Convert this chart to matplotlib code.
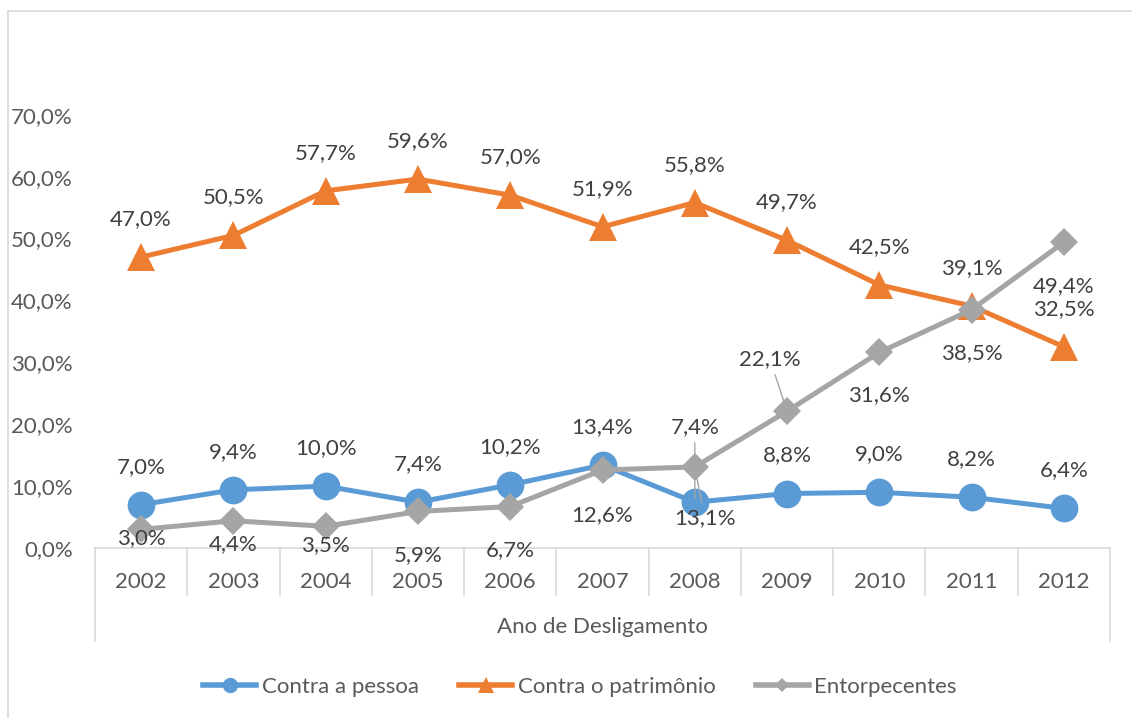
#Recriação do gráfico de linhas (estilo Excel)
import matplotlib.pyplot as plt
from matplotlib.lines import Line2D
from matplotlib.patches import Rectangle

#dados
anos = ["2002", "2003", "2004", "2005", "2006", "2007", "2008", "2009", "2010", "2011", "2012"]
contra_pessoa = [7.0, 9.4, 10.0, 7.4, 10.2, 13.4, 7.4, 8.8, 9.0, 8.2, 6.4]
contra_patrimonio = [47.0, 50.5, 57.7, 59.6, 57.0, 51.9, 55.8, 49.7, 42.5, 39.1, 32.5]
entorpecentes = [3.0, 4.4, 3.5, 5.9, 6.7, 12.6, 13.1, 22.1, 31.6, 38.5, 49.4]
yticks = [0, 10, 20, 30, 40, 50, 60, 70]

#deslocamento dos rótulos (pixels), como no original
off_pessoa = [(0, 38)] * 6 + [(0, 75)] + [(0, 38)] * 4
off_patrimonio = [(0, 38)] * 11
off_entorp = [(0, -9), (0, -23), (0, -19), (0, -44), (0, -44), (0, -45),
              (10, -51), (-17, 52), (0, -43), (0, -43), (0, -44)]
leader = [6, 7]  # rótulos com linha de chamada

azul = "#5B9BD5"
laranja = "#ED7D31"
cinza = "#A5A5A5"
txt = "#404040"
eixo = "#595959"
borda = "#D9D9D9"

plt.rcParams['font.family'] = ['Lato', 'DejaVu Sans']
fs = 16

fig = plt.figure(figsize=(11.32, 7.18), dpi=100)
W, H = 1132, 718
#posição da área do gráfico em pixels
x0, x1 = 95, 1110
y0, ytop = 548, 548 - 8 * 61.9
ax = fig.add_axes([x0 / W, (H - y0) / H, (x1 - x0) / W, (y0 - ytop) / H])

#borda externa (cortada à direita e embaixo)
fig.add_artist(Rectangle((8 / W, -0.1), 1.2, (H - 11) / H + 0.1,
                         transform=fig.transFigure, fill=False,
                         edgecolor=borda, lw=1.2))

x = list(range(len(anos)))
series = [
    (contra_pessoa, azul, "o", 20, off_pessoa, "Contra a pessoa"),
    (contra_patrimonio, laranja, "^", 19.5, off_patrimonio, "Contra o patrimônio"),
    (entorpecentes, cinza, "D", 14.5, off_entorp, "Entorpecentes"),
]
for vals, cor, mk, ms, offs, nome in series:
    ax.plot(x, vals, color=cor, lw=3.6, marker=mk, markersize=ms,
            markeredgewidth=0, solid_capstyle="round", clip_on=False, zorder=3)
    for i, v in enumerate(vals):
        dx, dy = offs[i]
        arrow = None
        if (nome == "Entorpecentes" and i in leader) or (nome == "Contra a pessoa" and i == 6):
            arrow = dict(arrowstyle="-", color="#A6A6A6", lw=1, shrinkA=2, shrinkB=3)
        ax.annotate(f"{v:.1f}%".replace(".", ","), (i, v), xytext=(dx, dy),
                    textcoords="offset pixels", ha="center", va="center",
                    fontsize=fs, color=txt, arrowprops=arrow, zorder=5)

ax.set_xlim(-0.5, len(anos) - 0.5)
ax.set_ylim(0, 80)
ax.set_yticks(yticks)
ax.set_yticklabels([f"{t:.1f}%".replace(".", ",") for t in yticks])
ax.set_xticks(x)
ax.set_xticklabels(anos)
ax.tick_params(axis="both", length=0, labelsize=fs, colors=eixo)
ax.tick_params(axis="y", pad=16)
ax.tick_params(axis="x", pad=17)
for s in ["top", "right", "left"]:
    ax.spines[s].set_visible(False)
ax.spines["bottom"].set_color(borda)
ax.spines["bottom"].set_linewidth(1.2)

#linhas da tabela de categorias
ph = y0 - ytop
t = ax.get_xaxis_transform()
for k in range(1, len(anos)):
    ax.plot([k - 0.5, k - 0.5], [0, -47 / ph], color=borda, lw=1.2,
            transform=t, clip_on=False)
for k in [-0.5, len(anos) - 0.5]:
    ax.plot([k, k], [0, -93 / ph], color=borda, lw=1.2, transform=t, clip_on=False)
ax.text((len(anos) - 1) / 2, -79 / ph, "Ano de Desligamento", transform=t,
        ha="center", va="center", fontsize=fs, color=eixo)

#legenda
handles = [
    Line2D([], [], color=azul, lw=4, marker="o", markersize=11, markeredgewidth=0),
    Line2D([], [], color=laranja, lw=4, marker="^", markersize=11, markeredgewidth=0),
    Line2D([], [], color=cinza, lw=4, marker="D", markersize=7, markeredgewidth=0),
]
fig.legend(handles, [s[5] for s in series], loc="center", ncol=3,
           bbox_to_anchor=(580 / W, 31 / H), frameon=False, fontsize=fs,
           labelcolor=eixo, handlelength=2.4, handletextpad=0.25,
           columnspacing=1.8)

fig.savefig("out.png", dpi=100)
